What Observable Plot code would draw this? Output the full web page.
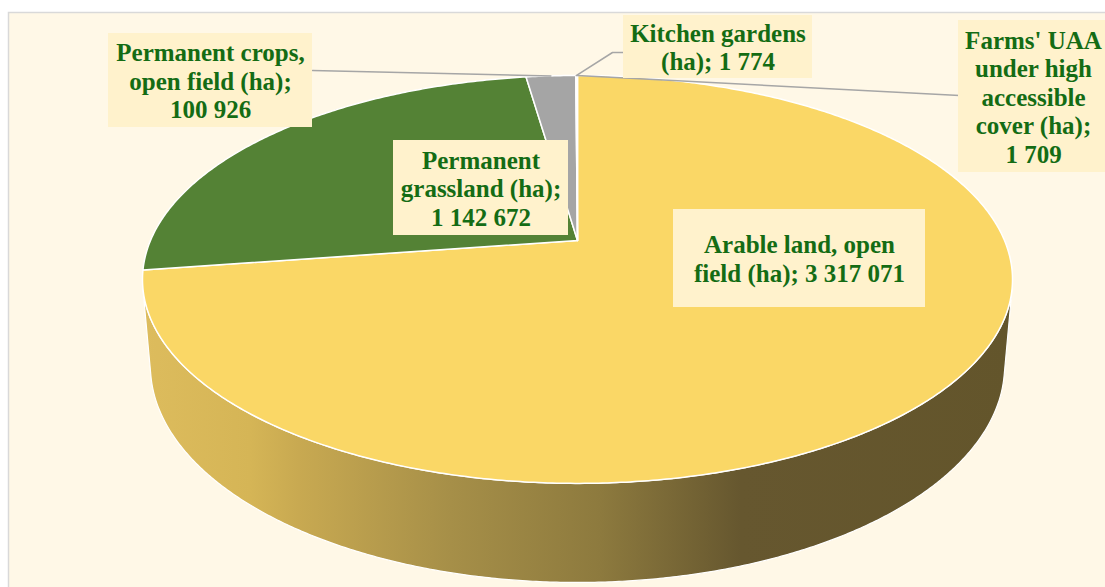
<!DOCTYPE html>
<html><head><meta charset="utf-8">
<script src="https://cdn.jsdelivr.net/npm/d3@7"></script>
<script src="https://cdn.jsdelivr.net/npm/@observablehq/plot@0.6"></script>
<style>body{margin:0;background:#fff;} svg text{font-family:"Liberation Serif","Times New Roman",serif;}</style>
</head><body><div id="chart"></div>
<script>
// ---- data ----
const categories = ["Arable land, open field (ha)", "Permanent grassland (ha)", "Permanent crops, open field (ha)", "Kitchen gardens (ha)", "Farms' UAA under high accessible cover (ha)"];
const values = [3317071, 1142672, 100926, 1774, 1709];

// ---- styles ----
const sliceColors = ["#FAD766", "#548235", "#A5A5A5", "#ED7D31", "#5B9BD5"];
const textColor = "#146C14";
const boxColor = "#FFF2CC";
const leaderColor = "#A6A6A6";

// ---- layout (pixels) ----
const G = {cx: 577, cy: 240, a: 427, b: 196.5, p: 0.191, k: 0.018, c: 86.3};
const labelLayout = [
  {cx: 799, cy: 258, w: 252, h: 98, lines: [3, 3], leader: null},
  {cx: 480.5, cy: 187.5, w: 175, h: 95, lines: [1, 2, 1], leader: null},
  {cx: 210, cy: 80, w: 204, h: 94, lines: [2, 3, 1], leader: [[312, 70]]},
  {cx: 717.5, cy: 46.5, w: 189, h: 63, lines: [2, 2], leader: [[612, 52], [623, 52]]},
  {cx: 1033, cy: 96, w: 150, h: 152, lines: [2, 2, 1, 2, 1], leader: [[959, 95]]}
];

const fmt = d3.formatLocale({decimal: ".", thousands: "\u00A0", grouping: [3], currency: ["", ""]}).format(",d");
const arcs = d3.pie().sort(null).value(d => d)(values);
const deg = Math.PI / 180;

function project(angle, r, d) {
  const u = r * Math.sin(angle), v = -r * Math.cos(angle);
  const w = 1 - G.p * v + G.k * d;
  return {x: G.cx + G.a * u / w, y: G.cy + (G.b * v + G.c * d) / w};
}

// top faces
const topPts = [];
arcs.forEach((a, i) => {
  const n = Math.max(2, Math.ceil((a.endAngle - a.startAngle) / (0.5 * deg)));
  topPts.push({i, ...project(0, 0, 0)});
  for (let j = 0; j <= n; j++) {
    const t = a.startAngle + (a.endAngle - a.startAngle) * j / n;
    topPts.push({i, ...project(t, 1, 0)});
  }
});

// side silhouette
function cross(t) {
  const T = project(t, 1, 0), B = project(t, 1, 1), T2 = project(t + 1e-4, 1, 0);
  const dx = T2.x - T.x, dy = T2.y - T.y;
  return (B.x - T.x) * dy - (B.y - T.y) * dx;
}
function root(lo, hi) {
  let flo = cross(lo);
  for (let it = 0; it < 60; it++) {
    const m = (lo + hi) / 2, fm = cross(m);
    if ((fm > 0) === (flo > 0)) { lo = m; flo = fm; } else hi = m;
  }
  return (lo + hi) / 2;
}
const tR = root(40 * deg, 140 * deg), tL = root(220 * deg, 320 * deg);
const sidePts = [];
const ns = 400;
for (let j = 0; j <= ns; j++) sidePts.push(project(tR + (tL - tR) * j / ns, 1, 0));
for (let j = ns; j >= 0; j--) sidePts.push(project(tR + (tL - tR) * j / ns, 1, 1));

// labels
const labels = categories.map((c, i) => {
  const L = labelLayout[i];
  const words = (c + "; " + fmt(values[i])).split(" ");
  const lines = []; let k = 0;
  for (const n of L.lines) { lines.push(words.slice(k, k + n).join(" ")); k += n; }
  return {text: lines.join("\n"), cx: L.cx, cy: L.cy, x1: L.cx - L.w / 2, x2: L.cx + L.w / 2, y1: L.cy - L.h / 2, y2: L.cy + L.h / 2};
});
const leaderPts = [];
arcs.forEach((a, i) => {
  const L = labelLayout[i];
  if (!L.leader) return;
  leaderPts.push({i, ...project((a.startAngle + a.endAngle) / 2, 1, 0)});
  for (const [x, y] of L.leader) leaderPts.push({i, x, y});
});

const chart = Plot.plot({
  width: 1105, height: 587,
  marginLeft: 8, marginTop: 12, marginRight: -3, marginBottom: -3,
  x: {domain: [0, 1105], range: [0, 1105], axis: null},
  y: {domain: [0, 587], range: [0, 587], axis: null},
  color: {type: "identity"},
  style: {background: "#ffffff", fontFamily: "'Liberation Serif', 'Times New Roman', serif", overflow: "hidden"},
  marks: [
    Plot.frame({fill: "#FFF8E7", stroke: "#D9D9D9", strokeWidth: 1.5}),
    Plot.line(sidePts, {x: "x", y: "y", curve: "linear-closed", fill: "url(#sideGrad)", stroke: "#ffffff", strokeWidth: 1.2}),
    Plot.line(topPts, {x: "x", y: "y", z: "i", curve: "linear-closed", fill: d => sliceColors[d.i], stroke: "#ffffff", strokeWidth: 1.5}),
    Plot.line(leaderPts, {x: "x", y: "y", z: "i", stroke: leaderColor, strokeWidth: 1.5}),
    Plot.rect(labels, {x1: "x1", x2: "x2", y1: "y1", y2: "y2", fill: boxColor}),
    Plot.text(labels, {x: "cx", y: "cy", text: "text", fill: textColor, fontSize: 25, fontWeight: "bold", lineHeight: 1.14, lineAnchor: "middle", fontFamily: "'Liberation Serif', serif"})
  ]
});

const xs = chart.scale("x");
const defs = d3.select(chart).insert("defs", ":first-child");
const grad = defs.append("linearGradient").attr("id", "sideGrad").attr("gradientUnits", "userSpaceOnUse")
  .attr("x1", xs.apply(G.cx - G.a * 1.02)).attr("x2", xs.apply(G.cx + G.a * 1.02)).attr("y1", 0).attr("y2", 0);
[[0, "#DDBC5D"], [0.124, "#D5B556"], [0.18, "#C8A951"], [0.354, "#A68F48"], [0.526, "#8D7A3E"], [0.687, "#66572F"], [1, "#63552B"]]
  .forEach(([o, c]) => grad.append("stop").attr("offset", o).attr("stop-color", c));

document.getElementById("chart").appendChild(chart);
</script>
</body></html>
